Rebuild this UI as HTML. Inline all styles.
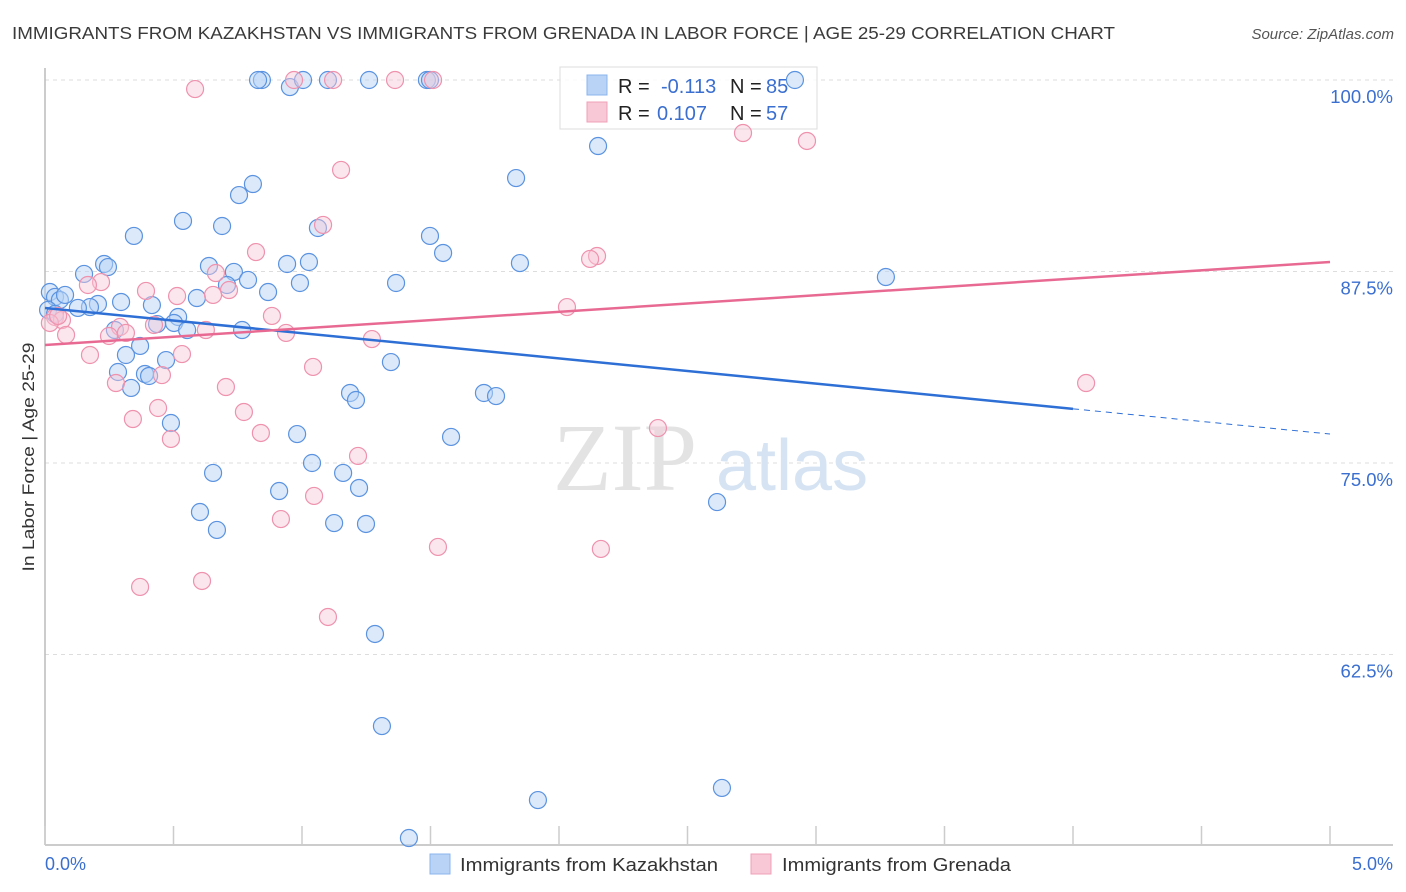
<!DOCTYPE html>
<html><head><meta charset="utf-8"><style>
body{margin:0;background:#fff;font-family:"Liberation Sans",sans-serif}
svg{display:block}
</style></head><body>
<svg id="chart" width="1406" height="892" xmlns="http://www.w3.org/2000/svg" font-family="Liberation Sans, sans-serif">
<text x="12" y="39" font-size="17.5" fill="#3a3a3a" textLength="1103" lengthAdjust="spacingAndGlyphs">IMMIGRANTS FROM KAZAKHSTAN VS IMMIGRANTS FROM GRENADA IN LABOR FORCE | AGE 25-29 CORRELATION CHART</text>
<text x="1394" y="39" font-size="15" fill="#555" font-style="italic" text-anchor="end">Source: ZipAtlas.com</text>
<text transform="translate(34,457) rotate(-90)" font-size="17" fill="#333" text-anchor="middle" textLength="229" lengthAdjust="spacingAndGlyphs">In Labor Force | Age 25-29</text>
<g id="grid"></g>
<text x="553" y="490" font-size="96" font-family="Liberation Serif, serif" fill="#e3e3e3">ZIP</text>
<text x="716" y="490" font-size="72" fill="#d5e3f3">atlas</text>
<g>
<rect x="560" y="67" width="257" height="62" fill="#fff" fill-opacity="0.8" stroke="#ddd"/>
<rect x="587" y="75" width="20" height="20" fill="#b8d3f5" stroke="#8ab4ec"/>
<rect x="587" y="102" width="20" height="20" fill="#f9c8d7" stroke="#f0a0b8"/>
<text x="618" y="93" font-size="20" fill="#222">R =</text>
<text x="661" y="93" font-size="20" fill="#3a6fd0">-0.113</text>
<text x="730" y="93" font-size="20" fill="#222">N =</text>
<text x="766" y="93" font-size="20" fill="#3a6fd0">85</text>
<text x="618" y="120" font-size="20" fill="#222">R =</text>
<text x="657" y="120" font-size="20" fill="#3a6fd0">0.107</text>
<text x="730" y="120" font-size="20" fill="#222">N =</text>
<text x="766" y="120" font-size="20" fill="#3a6fd0">57</text>
</g>
<g id="axes"></g>
<g id="pts"></g>
<g id="trends"></g>
<g>
<rect x="430" y="854" width="20" height="20" fill="#b8d3f5" stroke="#8ab4ec"/>
<text x="460" y="871" font-size="18" fill="#333" textLength="258" lengthAdjust="spacingAndGlyphs">Immigrants from Kazakhstan</text>
<rect x="751" y="854" width="20" height="20" fill="#f9c8d7" stroke="#f0a0b8"/>
<text x="782" y="871" font-size="18" fill="#333" textLength="229" lengthAdjust="spacingAndGlyphs">Immigrants from Grenada</text>
</g>
</svg>
<script>
const yTicks=[100,87.5,75,62.5];
const yTickLabels=["100.0%","87.5%","75.0%","62.5%"];
const xTicks=[0,0.5,1,1.5,2,2.5,3,3.5,4,4.5,5];
const kazX=[0.844,0.829,0.953,1.004,1.101,1.261,1.486,1.498,2.918,2.152,1.833,0.809,0.755,0.537,0.689,0.346,1.062,1.498,1.549,1.848,3.272,0.230,0.245,0.152,0.638,0.735,0.942,1.027,0.790,0.992,1.366,0.708,0.868,0.591,0.296,0.416,0.206,0.175,0.128,0.019,0.039,0.058,0.078,0.012,0.039,0.518,0.502,0.436,0.553,0.767,0.272,0.370,0.315,0.471,1.346,0.284,0.389,0.405,0.335,1.187,1.210,1.708,1.755,0.490,0.981,1.580,0.654,1.039,1.160,1.222,0.911,2.615,0.603,1.125,1.249,0.669,1.284,1.311,2.634,1.918,1.416];
const kazY=[100,100,99.54,100,100,100,100,100,100,95.69,93.60,93.21,92.49,90.80,90.47,89.82,90.34,89.82,88.71,88.05,87.14,87.99,87.79,87.34,87.86,87.47,87.99,88.12,86.95,86.75,86.75,86.62,86.16,85.77,85.51,85.31,85.38,85.18,85.12,86.16,85.84,85.64,85.97,84.99,84.73,84.53,84.14,84.07,83.68,83.68,83.68,82.64,82.05,81.72,81.59,80.94,80.81,80.68,79.90,79.57,79.11,79.57,79.37,77.61,76.89,76.70,74.35,75.00,74.35,73.37,73.17,72.45,71.80,71.08,71.02,70.63,63.84,57.83,53.79,53.00,50.52];
const grnX=[0.584,0.969,1.121,1.362,1.510,2.716,2.965,1.152,1.082,0.821,2.148,2.121,0.665,0.218,0.167,0.716,0.654,0.514,0.393,2.031,0.883,0.039,0.066,0.019,0.051,0.292,0.424,0.315,0.626,0.249,0.082,0.938,1.272,0.175,0.533,1.043,0.455,0.276,0.704,4.051,0.440,0.774,0.342,0.490,0.840,2.385,1.218,1.047,0.918,1.529,2.163,0.611,0.370,1.101];
const grnY=[99.41,100,100,100,100,96.54,96.02,94.13,90.54,88.77,88.51,88.32,87.40,86.81,86.62,86.29,85.97,85.90,86.23,85.18,84.60,84.53,84.33,84.14,84.60,83.88,84.01,83.49,83.68,83.29,83.36,83.49,83.09,82.05,82.11,81.27,80.74,80.22,79.96,80.22,78.59,78.33,77.87,76.57,76.96,77.28,75.46,72.85,71.34,69.52,69.39,67.30,66.91,64.95];
const kazTrend=[85.12,76.89];
const kazSolidEnd=4.0;
const grnTrend=[82.70,88.12];
const NS="http://www.w3.org/2000/svg";
const sx=v=>45+v*257, sy=v=>80+(100-v)*15.32;
function mk(tag,attrs,parent){const e=document.createElementNS(NS,tag);for(const k in attrs)e.setAttribute(k,attrs[k]);parent.appendChild(e);return e;}
const grid=document.getElementById('grid'),axes=document.getElementById('axes'),pts=document.getElementById('pts'),tr=document.getElementById('trends');
yTicks.forEach((t,i)=>{
 const l=mk('line',{x1:45,x2:1393,y1:sy(t),y2:sy(t),stroke:'#ddd','stroke-dasharray':'4,4'},grid);
 
 
 const tx=mk('text',{x:1393,y:sy(t)+23,'font-size':18.5,fill:'#3a6fd0','text-anchor':'end'},axes);
 tx.textContent=yTickLabels[i];
 
 
});
const ax=mk('line',{x1:45,x2:1393,y1:845,y2:845,stroke:'#bbb','stroke-width':1.5},axes);


const ay=mk('line',{x1:45,x2:45,y1:68,y2:845,stroke:'#bbb','stroke-width':1.5},axes);


xTicks.forEach(t=>{
 const l=mk('line',{x1:sx(t),x2:sx(t),y1:826,y2:845,stroke:'#ccc','stroke-width':1.5},axes);
 
 
});
const x0=mk('text',{x:45,y:870,'font-size':18,fill:'#3a6fd0'},axes);x0.textContent='0.0%';


const x1=mk('text',{x:1393,y:870,'font-size':18,fill:'#3a6fd0','text-anchor':'end'},axes);x1.textContent='5.0%';


kazX.forEach((v,i)=>{
 const c=mk('circle',{cx:sx(v),cy:sy(kazY[i]),r:8.5,fill:'#b8d3f5','fill-opacity':0.5,stroke:'#5b93e0','stroke-width':1.2},pts);
 
 
});
grnX.forEach((v,i)=>{
 const c=mk('circle',{cx:sx(v),cy:sy(grnY[i]),r:8.5,fill:'#f9c8d7','fill-opacity':0.45,stroke:'#ee92ae','stroke-width':1.2},pts);
 
 
});
const ky=x=>kazTrend[0]+(kazTrend[1]-kazTrend[0])*x/5;
const k1=mk('line',{x1:sx(0),y1:sy(ky(0)),x2:sx(kazSolidEnd),y2:sy(ky(kazSolidEnd)),stroke:'#2e6fd6','stroke-width':2.5},tr);


const k2=mk('line',{x1:sx(kazSolidEnd),y1:sy(ky(kazSolidEnd)),x2:sx(5),y2:sy(ky(5)),stroke:'#2e6fd6','stroke-width':1,'stroke-dasharray':'6,5'},tr);


const g1=mk('line',{x1:sx(0),y1:sy(grnTrend[0]),x2:sx(5),y2:sy(grnTrend[1]),stroke:'#e86a93','stroke-width':2.5},tr);


</script>
</body></html>
